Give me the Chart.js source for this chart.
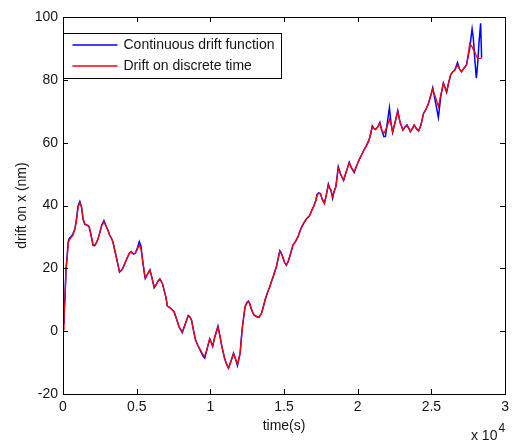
<!DOCTYPE html>
<html>
<head>
<meta charset="utf-8">
<script src="https://cdn.jsdelivr.net/npm/chart.js@4/dist/chart.umd.min.js"></script>
<style>
  html, body { margin: 0; padding: 0; background: #fff; }
  #wrap { width: 514px; height: 445px; }
</style>
</head>
<body>
<div id="wrap"><canvas id="c" width="514" height="445"></canvas></div>
<script>
// Sample times in seconds
const timeSec = [
  20, 67, 135, 202, 289, 356, 424, 585, 673, 807, 908, 1029, 1143, 1258, 1365, 1480, 1614, 1769, 1883, 2038,
  2152, 2253, 2374, 2489, 2623, 2778, 2939, 3061, 3161, 3296, 3383, 3498, 3612, 3733, 3834, 3935, 4056, 4238, 4392, 4507,
  4621, 4776, 4910, 5045, 5179, 5294, 5401, 5516, 5583, 5717, 5899, 6034, 6188, 6323, 6457, 6572, 6747, 6861, 6975, 7083,
  7311, 7534, 7735, 7870, 8092, 8274, 8495, 8610, 8724, 8845, 8993, 9148, 9330, 9484, 9619, 9787, 9955, 10056, 10157, 10291,
  10513, 10628, 10782, 10964, 11099, 11233, 11401, 11570, 11704, 11839, 12020, 12108, 12175, 12262, 12357, 12464, 12579, 12666, 12760, 12868,
  12982, 13137, 13298, 13473, 13608, 13742, 13890, 14038, 14146, 14260, 14374, 14482, 14596, 14711, 14798, 14886, 15020, 15155, 15269, 15383,
  15491, 15605, 15773, 15942, 16076, 16211, 16345, 16500, 16614, 16729, 16883, 17018, 17152, 17240, 17354, 17468, 17589, 17737, 17872, 18006,
  18094, 18181, 18296, 18397, 18518, 18679, 18834, 19036, 19238, 19419, 19574, 19756, 19910, 20092, 20247, 20428, 20583, 20765, 20886, 20987,
  21101, 21209, 21357, 21505, 21626, 21774, 21881, 21996, 22150, 22265, 22366, 22534, 22716, 22870, 23072, 23206, 23341, 23475, 23563, 23711,
  23832, 23980, 24128, 24283, 24464, 24619, 24801, 24955, 25090, 25191, 25312, 25473, 25628, 25809, 25930, 26031, 26166, 26300, 26435, 26589,
  26771, 26906, 27040, 27175, 27377, 27478, 27599, 27760, 27848, 27935, 28049, 28137, 28231, 28339, 28406
];

// Drift of the continuous model (nm)
const continuousDrift = [
  2.5, 6, 11, 19.5, 24.5, 28.5, 29.5, 30.3, 31, 32.5, 35.5, 40, 41.3, 39.5, 35.5, 34, 33.8, 33.3, 31, 27.3,
  27.2, 28, 29.3, 31.2, 33.7, 35.2, 33.3, 32, 30.6, 29.5, 28.5, 26, 23.7, 21, 18.8, 19.2, 20, 22, 23.7, 24.8,
  25.3, 24.5, 24.8, 26.5, 28.5, 27, 22.6, 18.5, 16.8, 18, 19.5, 17, 13.8, 14.8, 16, 16.6, 15.2, 13, 11, 8,
  7.3, 6.2, 3.5, 1.4, -0.5, 2, 5, 4.5, 3.5, 0.5, -2.8, -4.5, -6.3, -7.8, -8.6, -5.5, -2.4, -3.5, -4.9, -2,
  1.6, -1, -4.9, -8.6, -10.5, -11.8, -9.5, -7, -8.8, -11, -7, -2, 1.4, 4.5, 7.8, 9, 9.6, 8.8, 7.3, 6,
  5.1, 4.6, 4.4, 5.7, 8, 10.4, 12.5, 14.2, 15.8, 17.3, 19, 20.5, 23, 25.6, 25, 24, 22, 21, 22, 23.7,
  25.5, 27.4, 28.5, 30, 31.8, 33.3, 34.5, 35.6, 36.2, 36.7, 38.5, 39.8, 41.5, 43.5, 44, 43.8, 42, 40.7, 43.5, 46.8,
  45.5, 44.9, 42.3, 44.5, 46, 52.3, 50, 48, 51, 53.8, 52, 50.5, 52.5, 54.5, 56, 57.7, 59, 60.8, 63, 65.3,
  64.5, 64.2, 65, 66.5, 64, 61.9, 62, 66, 71.1, 66, 63.2, 66.5, 70.2, 66.5, 64, 65, 65.6, 64.5, 63.5, 64.5,
  65.6, 64.5, 63.7, 65.5, 69.3, 70.5, 72.5, 75, 77.5, 75, 72, 68, 74.5, 79, 77.5, 76, 79, 81.5, 82.5, 83.1,
  85.5, 83.5, 82.6, 83.5, 84.7, 87.5, 90, 96.2, 93, 87, 80.5, 85, 92, 98, 87
];

// Drift sampled on discrete time (nm)
const discreteDrift = [
  0.5, 4, 10, 19.5, 23.7, 28, 29, 30, 30.5, 32.5, 35, 39.5, 40.8, 39.5, 35.8, 34.2, 33.8, 33.3, 31, 27.6,
  27.3, 28, 29.3, 31.2, 33.5, 34.8, 33.3, 32, 30.6, 29.5, 28.5, 26, 23.7, 21, 19, 19.2, 20, 22, 23.7, 24.8,
  25.3, 24.6, 24.8, 26, 27.5, 26, 22.6, 19, 17, 18, 19.5, 17, 14.2, 14.8, 16, 16.6, 15.2, 13, 11, 8,
  7.3, 6.2, 3.5, 1.4, -0.2, 2, 4.8, 4.5, 3.5, 0.5, -2.8, -4.5, -6, -7.3, -8, -5.5, -2.4, -3.5, -4.7, -2,
  1.2, -1, -4.9, -8.6, -10.5, -11.8, -9.5, -7.2, -8.8, -10.5, -7, -2, 1.4, 4.5, 7.8, 8.8, 9.4, 8.8, 7.3, 6,
  5.1, 4.6, 4.4, 5.7, 8, 10.4, 12.5, 14.2, 15.8, 17.3, 19, 20.5, 23, 25.3, 24.8, 24, 22, 21.1, 22, 23.7,
  25.5, 27.4, 28.5, 30, 31.8, 33.3, 34.5, 35.6, 36.2, 36.7, 38.5, 39.8, 41.5, 43.3, 43.8, 43.8, 42, 40.7, 43.5, 46.5,
  45.5, 44.9, 42.8, 44.5, 46, 51.8, 50, 48.1, 51, 53.5, 52, 50.8, 52.5, 54.5, 56, 57.7, 59, 60.8, 63, 65.1,
  64.5, 64.2, 65, 66.1, 64, 63, 64, 65.1, 67.5, 66, 63.5, 66.5, 69.8, 66.5, 64, 65, 65.6, 64.5, 63.5, 64.5,
  65.6, 64.5, 63.7, 65.5, 69.3, 70.5, 72.5, 75, 77, 75.5, 74, 71.5, 75, 78.9, 77.5, 76.2, 79, 81.5, 82.5, 83.1,
  84.7, 83.5, 82.6, 83.5, 84.7, 87, 91.6, 90.5, 89.5, 89, 87.5, 86.8, 86.8, 86.8, 87
];

const seriesNames = ['Continuous drift function', 'Drift on discrete time'];
const seriesColors = ['#0000ff', '#ff0000'];
const xTickValues = [0, 5000, 10000, 15000, 20000, 25000, 30000];
const yTickValues = [-20, 0, 20, 40, 60, 80, 100];
const xExponent = 4;

const FONT = "'Liberation Sans', Arial, Helvetica, sans-serif";
const TEXT = '#151515';

// Box around the axes with inward tick marks on all four sides
const framePlugin = {
  id: 'frame',
  afterDatasetsDraw(chart) {
    const { ctx, chartArea: a, scales: { x, y } } = chart;
    const len = 5;
    ctx.save();
    ctx.strokeStyle = '#000';
    ctx.lineWidth = 1;
    ctx.beginPath();
    x.ticks.forEach(t => {
      const px = Math.round(x.getPixelForValue(t.value)) + 0.5;
      ctx.moveTo(px, a.bottom); ctx.lineTo(px, a.bottom - len);
      ctx.moveTo(px, a.top); ctx.lineTo(px, a.top + len);
    });
    y.ticks.forEach(t => {
      const py = Math.round(y.getPixelForValue(t.value)) + 0.5;
      ctx.moveTo(a.left, py); ctx.lineTo(a.left + len, py);
      ctx.moveTo(a.right, py); ctx.lineTo(a.right - len, py);
    });
    ctx.stroke();
    ctx.strokeRect(Math.round(a.left) + 0.5, Math.round(a.top) + 0.5,
                   Math.round(a.right - a.left), Math.round(a.bottom - a.top));
    ctx.restore();
  }
};

// Boxed legend in the upper-left corner of the axes
const boxLegendPlugin = {
  id: 'boxLegend',
  afterDatasetsDraw(chart) {
    const { ctx, chartArea: a } = chart;
    ctx.save();
    ctx.font = '14px ' + FONT;
    const textW = Math.max(...seriesNames.map(n => ctx.measureText(n).width));
    const left = Math.round(a.left) + 0.5;
    const top = Math.round(a.top) + 16.5;
    const lineX0 = left + 9, lineX1 = left + 54, textX = left + 60;
    const w = Math.round(textX - left + textW + 7);
    const rowH = 21;
    const h = 45;
    ctx.fillStyle = '#fff';
    ctx.fillRect(left, top, w, h);
    ctx.strokeStyle = '#000';
    ctx.lineWidth = 1;
    ctx.strokeRect(left, top, w, h);
    seriesNames.forEach((name, i) => {
      const cy = Math.round(top + 11 + i * rowH);
      ctx.strokeStyle = seriesColors[i];
      ctx.lineWidth = 1.5;
      ctx.beginPath();
      ctx.moveTo(lineX0, cy); ctx.lineTo(lineX1, cy);
      ctx.stroke();
      ctx.fillStyle = TEXT;
      ctx.textBaseline = 'middle';
      ctx.textAlign = 'left';
      ctx.fillText(name, textX, cy + 0.5);
    });
    ctx.restore();
  }
};

// Power-of-ten multiplier under the right end of the x axis
const exponentPlugin = {
  id: 'exponent',
  afterDraw(chart) {
    const { ctx, chartArea: a } = chart;
    ctx.save();
    ctx.fillStyle = TEXT;
    ctx.textBaseline = 'alphabetic';
    ctx.textAlign = 'right';
    ctx.font = '12px ' + FONT;
    const sup = String(xExponent);
    const supW = ctx.measureText(sup).width;
    ctx.fillText(sup, a.right, a.bottom + 38);
    ctx.font = '14px ' + FONT;
    ctx.fillText('x 10', a.right - supW - 1, a.bottom + 46);
    ctx.restore();
  }
};

const toPoints = vals => timeSec.map((t, i) => ({ x: t, y: vals[i] }));

new Chart(document.getElementById('c'), {
  type: 'line',
  data: {
    datasets: [
      {
        label: seriesNames[0],
        data: toPoints(continuousDrift),
        borderColor: seriesColors[0],
        borderWidth: 1.5,
        pointRadius: 0,
        tension: 0,
        fill: false,
        order: 2
      },
      {
        label: seriesNames[1],
        data: toPoints(discreteDrift),
        borderColor: seriesColors[1],
        borderWidth: 1.3,
        pointRadius: 0,
        tension: 0,
        fill: false,
        order: 1
      }
    ]
  },
  options: {
    responsive: false,
    devicePixelRatio: 1,
    animation: false,
    layout: { padding: { top: 17, right: 5, left: 0, bottom: 0 } },
    plugins: { legend: { display: false }, tooltip: { enabled: false } },
    scales: {
      x: {
        type: 'linear',
        min: 0,
        max: 30000,
        afterBuildTicks: s => { s.ticks = xTickValues.map(v => ({ value: v })); },
        afterFit: s => { s.height = 51; },
        grid: { display: false, drawTicks: false },
        border: { display: false },
        ticks: {
          padding: 5,
          color: TEXT,
          font: { family: FONT, size: 14 },
          maxRotation: 0,
          callback: v => String(v / Math.pow(10, xExponent))
        },
        title: {
          display: true,
          text: 'time(s)',
          color: TEXT,
          font: { family: FONT, size: 14 },
          padding: { top: 0, bottom: 10 }
        }
      },
      y: {
        min: -20,
        max: 100,
        afterBuildTicks: s => { s.ticks = yTickValues.map(v => ({ value: v })); },
        afterFit: s => { s.width = 63; },
        grid: { display: false, drawTicks: false },
        border: { display: false },
        ticks: {
          padding: 5,
          color: TEXT,
          font: { family: FONT, size: 14 }
        },
        title: {
          display: true,
          text: 'drift on x (nm)',
          color: TEXT,
          font: { family: FONT, size: 14 },
          padding: { top: 14, bottom: 0 }
        }
      }
    }
  },
  plugins: [framePlugin, boxLegendPlugin, exponentPlugin]
});
</script>
</body>
</html>
